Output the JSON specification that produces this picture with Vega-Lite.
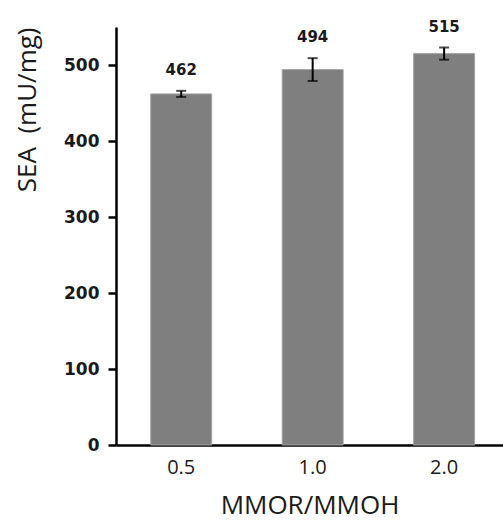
{
  "$schema": "https://vega.github.io/schema/vega-lite/v6.json",
  "width": 387,
  "height": 418,
  "autosize": {"type": "none"},
  "padding": {"left": 116, "top": 27, "right": 0, "bottom": 78},
  "background": "white",
  "config": {"view": {"stroke": null}},
  "data": {
    "values": [
      {"ratio": "0.5", "sea": 462, "lower": 458, "upper": 466},
      {"ratio": "1.0", "sea": 494, "lower": 479, "upper": 509},
      {"ratio": "2.0", "sea": 515, "lower": 507, "upper": 523}
    ]
  },
  "encoding": {
    "x": {
      "field": "ratio",
      "type": "nominal",
      "sort": null,
      "scale": {"paddingInner": 0.536, "paddingOuter": 0.24, "align": 0.55},
      "axis": {
        "title": "MMOR/MMOH",
        "titleFont": "Open Sans",
        "titleFontSize": 26,
        "titleFontWeight": "normal",
        "titleColor": "#1a1a1a",
        "titlePadding": 15,
        "labelFont": "Open Sans",
        "labelFontSize": 20,
        "labelColor": "#1a1a1a",
        "labelAngle": 0,
        "labelPadding": 12,
        "ticks": false,
        "domainColor": "black",
        "domainWidth": 2.5
      }
    }
  },
  "layer": [
    {
      "mark": {"type": "bar", "color": "#7f7f7f", "stroke": "#a6a6a6", "strokeWidth": 1},
      "encoding": {
        "y": {
          "field": "sea",
          "type": "quantitative",
          "title": "SEA\u00a0 (mU/mg)",
          "scale": {"domain": [0, 550], "nice": false},
          "axis": {
            "titleFont": "Open Sans",
            "titleFontSize": 26,
            "titleFontWeight": "normal",
            "titleColor": "#1a1a1a",
            "titleAnchor": "end",
            "titlePadding": 23,
            "values": [0, 100, 200, 300, 400, 500],
            "labelFont": "DejaVu Sans",
            "labelFontWeight": "bold",
            "labelFontSize": 17,
            "labelColor": "#1a1a1a",
            "labelPadding": 9,
            "tickSize": 8,
            "tickWidth": 2.5,
            "tickColor": "black",
            "domainColor": "black",
            "domainWidth": 2.5,
            "grid": false
          }
        }
      }
    },
    {
      "mark": {"type": "errorbar", "ticks": {"size": 10, "thickness": 2, "color": "black"}, "thickness": 2, "color": "black"},
      "encoding": {
        "y": {"field": "lower", "type": "quantitative", "title": "SEA\u00a0 (mU/mg)"},
        "y2": {"field": "upper"}
      }
    },
    {
      "mark": {"type": "text", "font": "DejaVu Sans", "fontWeight": "bold", "fontSize": 15, "color": "#1a1a1a", "baseline": "middle", "dy": -21},
      "encoding": {
        "y": {"field": "upper", "type": "quantitative", "title": "SEA\u00a0 (mU/mg)"},
        "text": {"field": "sea", "type": "quantitative"}
      }
    }
  ]
}
